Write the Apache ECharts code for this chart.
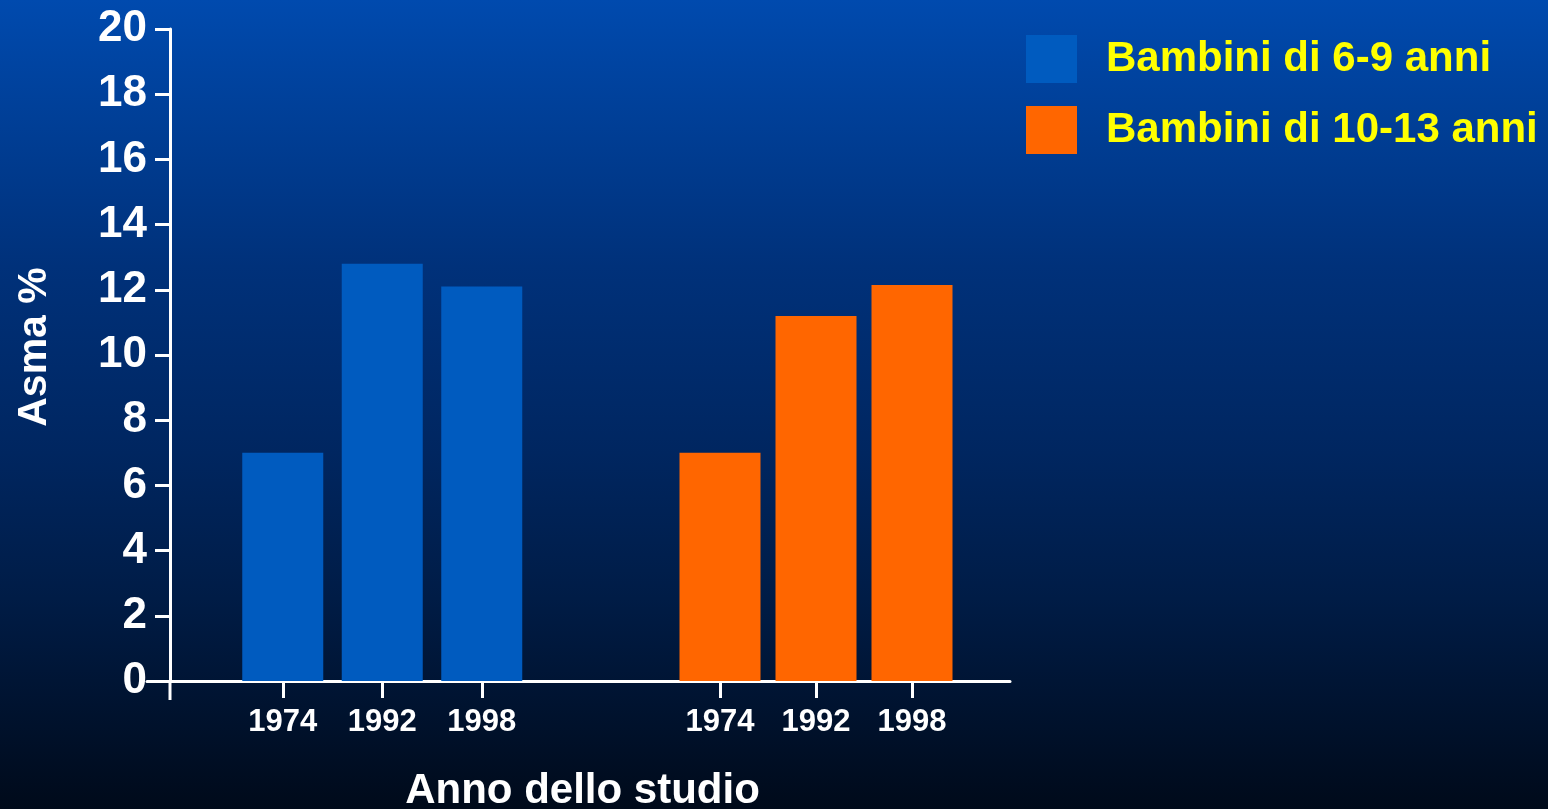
<!DOCTYPE html>
<html>
<head>
<meta charset="utf-8">
<script src="https://cdn.jsdelivr.net/npm/echarts@6/dist/echarts.min.js"></script>
<style>
html,body{margin:0;padding:0;width:100%;height:100%;overflow:hidden;}
#chart{width:1548px;height:809px;}
</style>
</head>
<body>
<div id="chart"></div>
<script>
// ---- data ----
const years = ['1974', '1992', '1998'];
const seriesNames = ['Bambini di 6-9 anni', 'Bambini di 10-13 anni'];
const kids6to9 = [7.0, 12.8, 12.1];
const kids10to13 = [7.0, 11.2, 12.15];
const yTicks = { min: 0, max: 20, interval: 2 };
const yAxisTitle = 'Asma %';
const xAxisTitle = 'Anno dello studio';

// ---- styles ----
const FONT = '"Liberation Sans", Arial, Helvetica, sans-serif';
const WHITE = '#ffffff';
const BLUE = '#005BBF';
const ORANGE = '#FF6600';
const YELLOW = '#FFFF00';

const chart = echarts.init(document.getElementById('chart'));

const hiddenY = (gi) => ({
  gridIndex: gi, type: 'value', min: yTicks.min, max: yTicks.max, interval: yTicks.interval,
  show: false
});
const groupX = (gi) => ({
  gridIndex: gi, type: 'category', data: years,
  axisLine: { show: false },
  axisTick: { show: true, alignWithLabel: true, length: 17, lineStyle: { color: WHITE, width: 3 } },
  axisLabel: { color: WHITE, fontFamily: FONT, fontWeight: 'bold', fontSize: 31, margin: 26 },
  splitLine: { show: false }
});
const gridBase = { top: 29, bottom: 128, containLabel: false, outerBoundsMode: 'none' };

const option = {
  animation: false,
  backgroundColor: {
    type: 'linear', x: 0, y: 0, x2: 0, y2: 1,
    colorStops: [
      { offset: 0, color: '#004AAE' },
      { offset: 0.33, color: '#00317A' },
      { offset: 0.56, color: '#002660' },
      { offset: 0.74, color: '#001C46' },
      { offset: 1, color: '#000A1A' }
    ]
  },
  textStyle: { fontFamily: FONT },
  legend: {
    orient: 'vertical',
    left: 1026, top: 35, padding: 0,
    itemWidth: 51, itemHeight: 48, itemGap: 23,
    icon: 'rect',
    data: seriesNames,
    textStyle: { color: YELLOW, fontFamily: FONT, fontWeight: 'bold', fontSize: 42, padding: [0, 0, 0, 24] },
    selectedMode: false
  },
  grid: [
    Object.assign({ left: 147, right: 538 }, gridBase),
    Object.assign({ left: 233, width: 298.5 }, gridBase),
    Object.assign({ left: 672, width: 288 }, gridBase)
  ],
  xAxis: [
    {
      gridIndex: 0, type: 'value', min: 0, max: 1,
      axisLine: { show: true, onZero: false, lineStyle: { color: WHITE, width: 3 } },
      axisTick: { show: false }, axisLabel: { show: false }, splitLine: { show: false },
      name: xAxisTitle, nameLocation: 'middle', nameGap: 89,
      nameTextStyle: { color: WHITE, fontFamily: FONT, fontWeight: 'bold', fontSize: 42, padding: [0, 0, 0, 8] }
    },
    groupX(1),
    groupX(2)
  ],
  yAxis: [
    {
      gridIndex: 0, type: 'value', min: yTicks.min, max: yTicks.max, interval: yTicks.interval,
      offset: -23,
      axisLine: { show: true, lineStyle: { color: WHITE, width: 3 } },
      axisTick: { show: true, length: 15, lineStyle: { color: WHITE, width: 3 } },
      axisLabel: { color: WHITE, fontFamily: FONT, fontWeight: 'bold', fontSize: 44, margin: 23 },
      splitLine: { show: false },
      name: yAxisTitle, nameLocation: 'middle', nameRotate: 90, nameGap: 115,
      nameTextStyle: { color: WHITE, fontFamily: FONT, fontWeight: 'bold', fontSize: 41, padding: [0, 0, 0, 16] }
    },
    hiddenY(1),
    hiddenY(2)
  ],
  graphic: [
    { type: 'line', shape: { x1: 170, y1: 681, x2: 170, y2: 700 }, style: { stroke: WHITE, lineWidth: 3 }, z: 10 }
  ],
  series: [
    { name: seriesNames[0], type: 'bar', xAxisIndex: 1, yAxisIndex: 1, data: kids6to9,
      barWidth: 81, itemStyle: { color: BLUE } },
    { name: seriesNames[1], type: 'bar', xAxisIndex: 2, yAxisIndex: 2, data: kids10to13,
      barWidth: 81, itemStyle: { color: ORANGE } }
  ]
};
chart.setOption(option);
</script>
</body>
</html>
